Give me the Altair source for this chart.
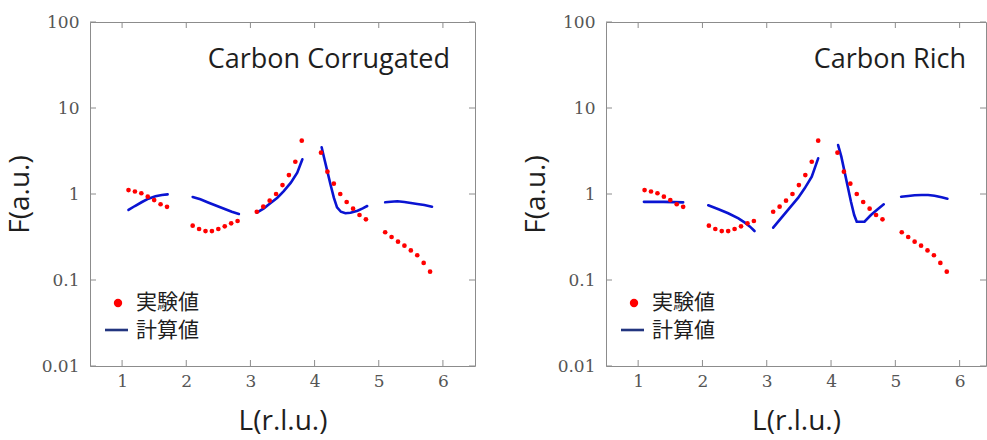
import altair as alt
import pandas as pd

# ---------------- data ----------------
exp_L = [1.1, 1.2, 1.3, 1.4, 1.5, 1.6, 1.7,
         2.1, 2.2, 2.3, 2.4, 2.5, 2.6, 2.7, 2.8,
         3.1, 3.2, 3.3, 3.4, 3.5, 3.6, 3.7, 3.8,
         4.1, 4.2, 4.3, 4.4, 4.5, 4.6, 4.7, 4.8,
         5.1, 5.2, 5.3, 5.4, 5.5, 5.6, 5.7, 5.8]
exp_F = [1.11, 1.07, 1.02, 0.93, 0.85, 0.76, 0.71,
         0.428, 0.392, 0.371, 0.371, 0.392, 0.421, 0.456, 0.485,
         0.622, 0.712, 0.836, 1.0, 1.27, 1.66, 2.37, 4.17,
         3.02, 1.82, 1.32, 1.0, 0.807, 0.675, 0.570, 0.508,
         0.359, 0.316, 0.279, 0.251, 0.221, 0.194, 0.158, 0.125]

# calculated, Carbon Corrugated
corr_seg = [1]*7 + [2]*7 + [3]*8 + [4]*12 + [5]*8
corr_L = [1.10, 1.20, 1.31, 1.41, 1.52, 1.62, 1.71,
          2.10, 2.22, 2.35, 2.48, 2.61, 2.71, 2.82,
          3.10, 3.21, 3.31, 3.42, 3.52, 3.63, 3.73, 3.81,
          4.11, 4.15, 4.20, 4.25, 4.30, 4.35, 4.41, 4.48, 4.56, 4.67, 4.75, 4.82,
          5.10, 5.19, 5.29, 5.40, 5.50, 5.60, 5.71, 5.83]
corr_F = [0.652, 0.725, 0.807, 0.882, 0.94, 0.974, 0.99,
          0.923, 0.868, 0.792, 0.725, 0.664, 0.622, 0.585,
          0.606, 0.681, 0.779, 0.906, 1.08, 1.354, 1.77, 2.53,
          3.49, 2.60, 1.82, 1.27, 0.906, 0.70, 0.622, 0.597, 0.606, 0.64, 0.681, 0.725,
          0.801, 0.814, 0.822, 0.807, 0.786, 0.765, 0.745, 0.711]

# calculated, Carbon Rich
rich_seg = [1]*3 + [2]*7 + [3]*7 + [4]*11 + [5]*8
rich_L = [1.09, 1.40, 1.70,
          2.09, 2.25, 2.40, 2.56, 2.66, 2.74, 2.81,
          3.10, 3.23, 3.36, 3.49, 3.59, 3.70, 3.80,
          4.11, 4.16, 4.21, 4.26, 4.31, 4.36, 4.40, 4.52, 4.62, 4.73, 4.82,
          5.09, 5.20, 5.30, 5.41, 5.51, 5.61, 5.72, 5.81]
rich_F = [0.81, 0.81, 0.80,
          0.739, 0.664, 0.597, 0.521, 0.464, 0.417, 0.371,
          0.406, 0.531, 0.693, 0.906, 1.164, 1.59, 2.60,
          3.71, 2.72, 1.82, 1.216, 0.814, 0.57, 0.476, 0.476, 0.57, 0.669, 0.759,
          0.93, 0.948, 0.966, 0.974, 0.974, 0.956, 0.915, 0.882]

x_ticks = [1, 2, 3, 4, 5, 6]
y_ticks = [0.01, 0.1, 1, 10, 100]
legend_labels = ["実験値", "計算値"]
panel_titles = ["Carbon Corrugated", "Carbon Rich"]

# ---------------- styling ----------------
H = 344
SANS = "Open Sans"
CJK = "Noto Sans CJK JP"
TICK = "#8c8c8c"
RED = "#ff0000"
BLUE = "#0a14d2"
NAVY = "#22357f"

exp_df = pd.DataFrame({"L": exp_L, "F": exp_F})
xt_df = pd.DataFrame({"L": x_ticks})
yt_df = pd.DataFrame({"F": y_ticks})


def panel(calc_L, calc_F, calc_seg, title, W, xmax):
    xs = alt.Scale(domain=[0.5, xmax], nice=False, zero=False)
    ys = alt.Scale(type="log", domain=[0.01, 100], nice=False)
    xax = alt.Axis(values=x_ticks, format="d", title="L(r.l.u.)", grid=False,
                   ticks=False, domain=False, labelPadding=7, titlePadding=18)
    yax = alt.Axis(values=y_ticks, format="~g", title="F(a.u.)", grid=False,
                   ticks=False, domain=False, labelPadding=11, titlePadding=7)
    calc_df = pd.DataFrame({"L": calc_L, "F": calc_F, "seg": calc_seg})

    base_x = alt.X("L:Q", scale=xs, axis=xax)
    base_y = alt.Y("F:Q", scale=ys, axis=yax)

    line = alt.Chart(calc_df).mark_line(color=BLUE, strokeWidth=2.6,
                                        strokeCap="round", clip=True).encode(
        x=base_x, y=base_y, detail="seg:N", order="L:Q")
    pts = alt.Chart(exp_df).mark_circle(color=RED, opacity=1, size=22).encode(
        x=alt.X("L:Q", scale=xs), y=alt.Y("F:Q", scale=ys))

    xt_bot = alt.Chart(xt_df).mark_rule(color=TICK, strokeWidth=1).encode(
        x=alt.X("L:Q", scale=xs), y=alt.value(H - 6), y2=alt.value(H))
    xt_top = alt.Chart(xt_df).mark_rule(color=TICK, strokeWidth=1).encode(
        x=alt.X("L:Q", scale=xs), y=alt.value(0), y2=alt.value(6))
    yt_l = alt.Chart(yt_df).mark_rule(color=TICK, strokeWidth=1).encode(
        y=alt.Y("F:Q", scale=ys), x=alt.value(0), x2=alt.value(6))
    yt_r = alt.Chart(yt_df).mark_rule(color=TICK, strokeWidth=1).encode(
        y=alt.Y("F:Q", scale=ys), x=alt.value(W - 6), x2=alt.value(W))

    ttl = alt.Chart(pd.DataFrame({"t": [title]})).mark_text(
        font=SANS, fontSize=27, color="#1e1e1e", align="right",
        baseline="alphabetic").encode(
        text="t:N", x=alt.value(360), y=alt.value(46))

    leg_pt = alt.Chart(pd.DataFrame({"t": [legend_labels[0]]})).mark_circle(
        color=RED, opacity=1, size=70).encode(x=alt.value(28), y=alt.value(281))
    leg_ln = alt.Chart(pd.DataFrame({"t": [legend_labels[1]]})).mark_rule(
        color=NAVY, strokeWidth=2.6).encode(
        x=alt.value(15), x2=alt.value(38), y=alt.value(308))
    leg_txt1 = alt.Chart(pd.DataFrame({"t": [legend_labels[0]]})).mark_text(
        font=CJK, fontSize=21, color="#1e1e1e", align="left",
        baseline="middle").encode(text="t:N", x=alt.value(46), y=alt.value(281))
    leg_txt2 = alt.Chart(pd.DataFrame({"t": [legend_labels[1]]})).mark_text(
        font=CJK, fontSize=21, color="#1e1e1e", align="left",
        baseline="middle").encode(text="t:N", x=alt.value(46), y=alt.value(309))

    return alt.layer(line, pts, xt_bot, xt_top, yt_l, yt_r, ttl,
                     leg_pt, leg_ln, leg_txt1, leg_txt2).properties(width=W, height=H)


left = panel(corr_L, corr_F, corr_seg, panel_titles[0], 385, 6.5)
right = panel(rich_L, rich_F, rich_seg, panel_titles[1], 380, 6.41)

chart = alt.hconcat(left, right, spacing=131, bounds="flush").properties(
    padding={"left": 5, "top": 12, "right": 0, "bottom": 0},
    background="white"
).configure_view(stroke=TICK, strokeWidth=1).configure_axis(
    labelFont="DejaVu Serif", labelFontSize=17, labelColor="#555555",
    titleFont=SANS, titleFontSize=28, titleFontWeight="normal", titleColor="#1e1e1e"
)

chart.save("out.html", embed_options={"renderer": "svg", "actions": False})
